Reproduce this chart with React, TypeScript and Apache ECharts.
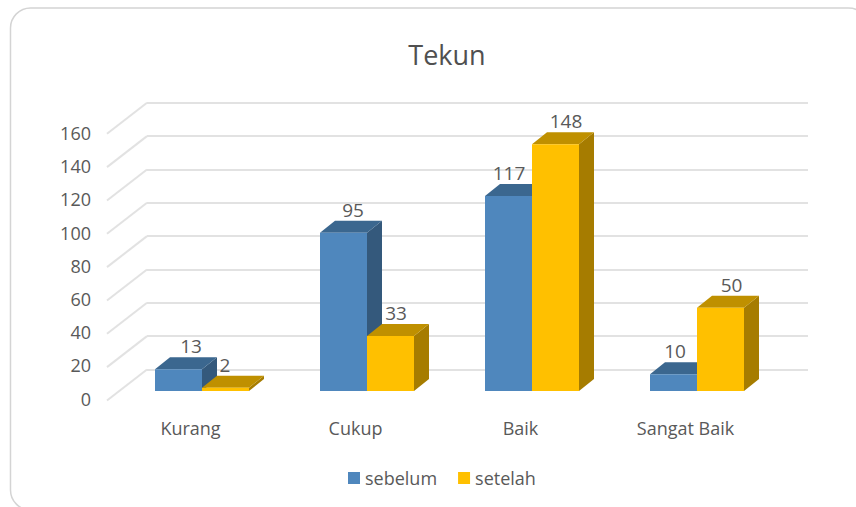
import React, { useEffect, useRef } from "react";
import * as echarts from "echarts";

const categories = ["Kurang", "Cukup", "Baik", "Sangat Baik"];
const sebelum = [13, 95, 117, 10];
const setelah = [2, 33, 148, 50];
const ticks = [0, 20, 40, 60, 80, 100, 120, 140, 160];

const labelNudgeSebelum = [12.5, 9.5, 0.5, 1.5];
const labelNudgeSetelah = [-0.5, 5.5, 10.5, 11];

const FONT = "'Open Sans', sans-serif";
const TEXT = "#595959";
const DX = 15;
const DY = 12;

function barSeries(name: string, values: number[], nudges: number[], side: number, front: string, top: string, right: string) {
  return {
    type: "custom",
    name,
    xAxisIndex: 0,
    yAxisIndex: 0,
    clip: false,
    z: 5,
    itemStyle: { color: front },
    encode: { x: 0, y: 1 },
    data: values.map((v, i) => [i, v]),
    renderItem: (params: any, api: any) => {
      const i = api.value(0);
      const v = api.value(1);
      const base = api.coord([i, 0]);
      const head = api.coord([i, v]);
      const w = (api.size([1, 0])[0] * 47) / 165;
      const x0 = side < 0 ? base[0] - w : base[0];
      const x1 = x0 + w;
      const y0 = base[1];
      const y1 = head[1];
      return {
        type: "group",
        children: [
          { type: "polygon", shape: { points: [[x1, y0], [x1 + DX, y0 - DY], [x1 + DX, y1 - DY], [x1, y1]] }, style: { fill: right } },
          { type: "polygon", shape: { points: [[x0, y1], [x0 + DX, y1 - DY], [x1 + DX, y1 - DY], [x1, y1]] }, style: { fill: top } },
          { type: "rect", shape: { x: x0, y: y1, width: w, height: y0 - y1 }, style: { fill: front } },
          {
            type: "text",
            style: {
              x: (x0 + x1) / 2 + nudges[i],
              y: y1 - 23,
              text: String(v),
              fill: TEXT,
              font: `19px ${FONT}`,
              align: "center",
              verticalAlign: "middle",
            },
            z2: 10,
          },
        ],
      };
    },
  };
}

export default function App() {
  const ref = useRef<HTMLDivElement>(null);
  useEffect(() => {
    const chart = echarts.init(ref.current!, undefined, { renderer: "svg" });
    chart.setOption({
      animation: false,
      backgroundColor: "#ffffff",
      title: {
        text: "Tekun",
        left: 442,
        top: 36,
        textAlign: "center",
        textStyle: { fontFamily: FONT, fontSize: 27, fontWeight: "normal", color: "#505050" },
      },
      legend: {
        left: 343,
        top: 464,
        itemWidth: 12,
        itemHeight: 12,
        itemGap: 21,
        icon: "rect",
        data: ["sebelum", "setelah"],
        textStyle: { fontFamily: FONT, fontSize: 18, color: TEXT },
      },
      graphic: [
        {
          type: "rect",
          silent: true,
          z: -10,
          shape: { x: 10.5, y: 8, width: 858, height: 502, r: 20 },
          style: { fill: "#ffffff", stroke: "#d4d4d4", lineWidth: 1.5 },
        },
      ],
      grid: [
        { left: 119.5, width: 660, top: 124.3, height: 266.7 },
        { left: 147, width: 661, top: 102.8, height: 266.7 },
        { left: 108, width: 660, top: 133, height: 265.5 },
      ],
      xAxis: [
        { type: "category", gridIndex: 0, data: categories, axisLine: { show: false }, axisTick: { show: false }, axisLabel: { show: false } },
        { type: "category", gridIndex: 1, data: categories, axisLine: { show: false }, axisTick: { show: false }, axisLabel: { show: false } },
        {
          type: "category",
          gridIndex: 2,
          data: categories,
          axisLine: { show: false },
          axisTick: { show: false },
          axisLabel: { show: true, interval: 0, margin: 20, fontFamily: FONT, fontSize: 18, color: TEXT },
        },
      ],
      yAxis: [0, 1, 2].map((g) => ({
        type: "value",
        gridIndex: g,
        min: 0,
        max: 160,
        interval: 20,
        axisLine: { show: false },
        axisTick: { show: false },
        splitLine: g === 1 ? { show: true, lineStyle: { color: "#e2e2e2", width: 2 } } : { show: false },
        axisLabel: g === 2 ? { show: true, margin: 17, fontFamily: FONT, fontSize: 18, color: TEXT } : { show: false },
      })),
      series: [
        {
          type: "custom",
          name: "dinding",
          xAxisIndex: 1,
          yAxisIndex: 1,
          clip: false,
          silent: true,
          z: 1,
          data: ticks.map((t) => [0, t]),
          encode: { x: 0, y: 1 },
          renderItem: (params: any, api: any) => {
            const y = api.coord([0, api.value(1)])[1];
            const x = params.coordSys.x;
            return {
              type: "line",
              shape: { x1: x, y1: y, x2: x - 40, y2: y + 31 },
              style: { stroke: "#e2e2e2", lineWidth: 2 },
            };
          },
        },
        barSeries("sebelum", sebelum, labelNudgeSebelum, -1, "#4f87bd", "#3b678f", "#34597c"),
        barSeries("setelah", setelah, labelNudgeSetelah, 1, "#ffc000", "#bf9000", "#a67c00"),
      ],
    });
    return () => chart.dispose();
  }, []);
  return <div ref={ref} style={{ position: "absolute", left: 0, top: 0, width: 856, height: 507 }} />;
}
